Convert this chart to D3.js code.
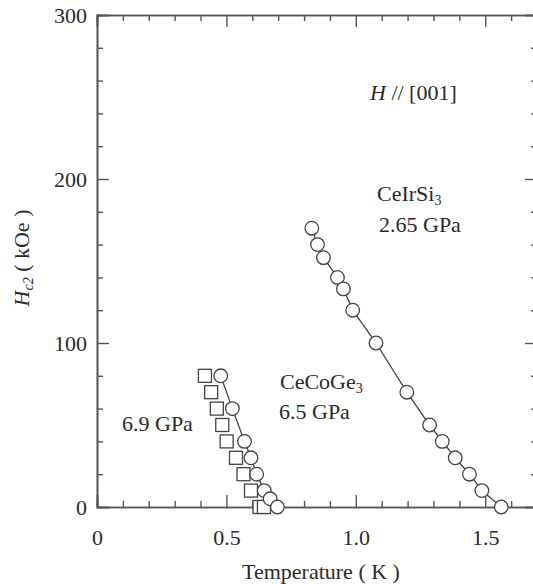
<!DOCTYPE html>
<html>
<head>
<meta charset="utf-8">
<script src="https://cdn.jsdelivr.net/npm/d3@7"></script>
<style>
  body { margin: 0; background: #fff; }
  svg { display: block; font-family: "Liberation Serif", "DejaVu Serif", serif; }
</style>
</head>
<body>
<script>
let width = 533;
let height = 584;

// CeIrSi3, 2.65 GPa (circles + line)
let irT = [0.830, 0.852, 0.875, 0.929, 0.952, 0.988, 1.078, 1.197, 1.285, 1.334, 1.384, 1.439, 1.487, 1.562];
let irH = [170, 160, 152, 140, 133, 120, 100, 70, 50, 40, 30, 20, 10, 0];

// CeCoGe3, 6.5 GPa (circles + line)
let co65T = [0.478, 0.523, 0.570, 0.595, 0.617, 0.646, 0.669, 0.697];
let co65H = [80, 60, 40, 30, 20, 10, 5, 0];

// CeCoGe3, 6.9 GPa (squares)
let co69T = [0.417, 0.441, 0.463, 0.484, 0.501, 0.537, 0.566, 0.595, 0.628, 0.645];
let co69H = [80, 70, 60, 50, 40, 30, 20, 10, 0, 0];

let xMajor = [0, 0.5, 1.0, 1.5];
let yMajor = [0, 100, 200, 300];

let margin = {left: 97, top: 15};
let plotW = 440;
let plotH = 492;

let x = d3.scaleLinear().domain([0, 1.7]).range([0, plotW]);
let y = d3.scaleLinear().domain([0, 300]).range([plotH, 0]);

let xMinor = d3.range(0, 1.71, 0.1).filter(v => Math.abs(v * 2 - Math.round(v * 2)) > 1e-6);
let yMinor = d3.range(0, 301, 20).filter(v => v % 100 !== 0);

let svg = d3.select('body').append('svg')
            .attr('width', width)
            .attr('height', height);

let g = svg.append('g')
            .attr('transform', 'translate(' + margin.left + ',' + margin.top + ')');

let axisColor = '#555';
let textColor = '#2a2a2a';
let fontSize = '22px';

function styleAxis(sel) {
    sel.select('.domain').attr('stroke', axisColor).attr('stroke-width', 1.6);
    sel.selectAll('.tick line').attr('stroke', axisColor).attr('stroke-width', 1.4);
    sel.selectAll('.tick text').attr('fill', textColor).style('font-size', fontSize)
        .style('font-family', '"Liberation Serif", serif');
}

let fmtX = d => d === 0 ? '0' : d3.format('.1f')(d);

// bottom
g.append('g').attr('transform', 'translate(0,' + plotH + ')')
    .call(d3.axisBottom(x).tickValues(xMajor).tickSize(-12).tickPadding(22).tickFormat(fmtX))
    .call(styleAxis);
g.append('g').attr('transform', 'translate(0,' + plotH + ')')
    .call(d3.axisBottom(x).tickValues(xMinor).tickSize(-6).tickFormat(''))
    .call(styleAxis);
// top
g.append('g')
    .call(d3.axisTop(x).tickValues(xMajor).tickSize(-12).tickFormat(''))
    .call(styleAxis);
g.append('g')
    .call(d3.axisTop(x).tickValues(xMinor).tickSize(-6).tickFormat(''))
    .call(styleAxis);
// left
g.append('g')
    .call(d3.axisLeft(y).tickValues(yMajor).tickSize(-12).tickPadding(10).tickFormat(d3.format('d')))
    .call(styleAxis);
g.append('g')
    .call(d3.axisLeft(y).tickValues(yMinor).tickSize(-6).tickFormat(''))
    .call(styleAxis);
// right
g.append('g').attr('transform', 'translate(' + plotW + ',0)')
    .call(d3.axisRight(y).tickValues(yMajor).tickSize(-12).tickFormat(''))
    .call(styleAxis);
g.append('g').attr('transform', 'translate(' + plotW + ',0)')
    .call(d3.axisRight(y).tickValues(yMinor).tickSize(-6).tickFormat(''))
    .call(styleAxis);

// data
let line = d3.line().x(d => x(d[0])).y(d => y(d[1]));
let markColor = '#444';

let irData = d3.zip(irT, irH);
let co65Data = d3.zip(co65T, co65H);
let co69Data = d3.zip(co69T, co69H);

[irData, co65Data].forEach(function(data) {
    g.append('path').datum(data)
        .attr('d', line)
        .attr('fill', 'none')
        .attr('stroke', markColor)
        .attr('stroke-width', 1.3);
});

g.append('g').selectAll('rect')
    .data(co69Data)
    .enter()
    .append('rect')
    .attr('x', d => x(d[0]) - 6.5)
    .attr('y', d => y(d[1]) - 6.5)
    .attr('width', 13)
    .attr('height', 13)
    .attr('fill', '#fff')
    .attr('stroke', markColor)
    .attr('stroke-width', 1.3);

[co65Data, irData].forEach(function(data) {
    g.append('g').selectAll('circle')
        .data(data)
        .enter()
        .append('circle')
        .attr('cx', d => x(d[0]))
        .attr('cy', d => y(d[1]))
        .attr('r', 6.8)
        .attr('fill', '#fff')
        .attr('stroke', markColor)
        .attr('stroke-width', 1.3);
});

// annotations
function label(px, py, parts) {
    let t = svg.append('text')
        .attr('x', px)
        .attr('y', py)
        .attr('fill', textColor)
        .style('font-size', fontSize);
    parts.forEach(function(p) {
        let s = t.append('tspan').text(p.text);
        if (p.italic) s.style('font-style', 'italic');
        if (p.sub) s.attr('baseline-shift', '-30%').style('font-size', '14px');
    });
    return t;
}

label(370, 100, [{text: 'H', italic: true}, {text: ' // [001]'}]);
label(377, 201, [{text: 'CeIrSi'}, {text: '3', sub: true}]);
label(379, 232, [{text: '2.65 GPa'}]);
label(280, 389, [{text: 'CeCoGe'}, {text: '3', sub: true}]);
label(279, 419, [{text: '6.5 GPa'}]);
label(122, 431, [{text: '6.9 GPa'}]);

// axis titles
svg.append('text')
    .attr('x', 321)
    .attr('y', 579)
    .attr('text-anchor', 'middle')
    .attr('fill', textColor)
    .style('font-size', fontSize)
    .text('Temperature ( K )');

let yt = svg.append('text')
    .attr('transform', 'translate(29,' + 258 + ') rotate(-90)')
    .attr('text-anchor', 'middle')
    .attr('fill', textColor)
    .style('font-size', fontSize);
yt.append('tspan').text('H').style('font-style', 'italic');
yt.append('tspan').text('c2').style('font-style', 'italic').style('font-size', '14px').attr('baseline-shift', '-30%');
yt.append('tspan').text(' ( kOe )');
</script>
</body>
</html>
